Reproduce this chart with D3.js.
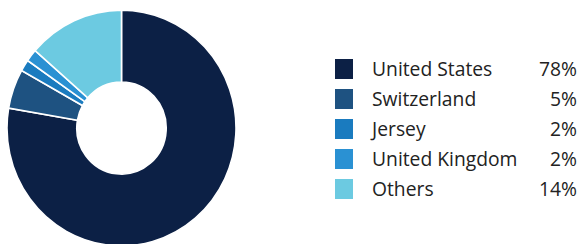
<!DOCTYPE html>
<html>
<head>
<meta charset="utf-8">
<script src="https://cdn.jsdelivr.net/npm/d3@7"></script>
<style>
  body { margin: 0; background: #fff; }
  text { font-family: 'Open Sans', 'Noto Sans', sans-serif; }
</style>
</head>
<body>
<div class="canvas"></div>
<script>
const countries = ['United States', 'Switzerland', 'Jersey', 'United Kingdom', 'Others']
// slice sizes; legend shows them rounded
const shares = [77.7, 5.4, 1.6, 1.7, 13.6]
const shareLabels = ['78%', '5%', '2%', '2%', '14%']
const colours = ['#0c2045', '#1e5281', '#1a7bbf', '#2a91d3', '#6ccae1']

const width = 583
const height = 244
const outer = 114.5
const inner = 44.7

const data = countries.map((name, i) => ({name, share: shares[i], label: shareLabels[i]}))

const svg = d3.select('.canvas')
  .append('svg')
  .attr('width', width)
  .attr('height', height)

const colourFor = d3.scaleOrdinal()
  .domain(countries)
  .range(colours)

// chart is a bit taller than wide in the original
const graph = svg.append('g')
  .attr('transform', 'translate(121.5, 128) scale(1, 1.03)')

const makePie = d3.pie()
  .sort(null)
  .value(d => d.share)

const makeArc = d3.arc()
  .outerRadius(outer)
  .innerRadius(inner)

graph.selectAll('path')
  .data(makePie(data))
  .enter().append('path')
  .attr('d', makeArc)
  .attr('fill', d => colourFor(d.data.name))
  .attr('stroke', '#fff')
  .attr('stroke-width', 1.6)
  .attr('stroke-linejoin', 'miter')

const rowY = d3.scaleBand()
  .domain(countries)
  .range([54, 204])

const legend = svg.append('g')

const rows = legend.selectAll('g')
  .data(data)
  .enter().append('g')
  .attr('transform', d => `translate(0, ${rowY(d.name) + rowY.bandwidth() / 2})`)

rows.append('rect')
  .attr('x', 335)
  .attr('y', -10)
  .attr('width', 18)
  .attr('height', 20)
  .attr('fill', d => colourFor(d.name))

rows.append('text')
  .attr('x', 372)
  .attr('y', 7)
  .attr('font-size', 19.3)
  .attr('fill', '#222')
  .text(d => d.name)

rows.append('text')
  .attr('x', 577)
  .attr('y', 7)
  .attr('font-size', 19.3)
  .attr('fill', '#222')
  .attr('text-anchor', 'end')
  .text(d => d.label)
</script>
</body>
</html>
